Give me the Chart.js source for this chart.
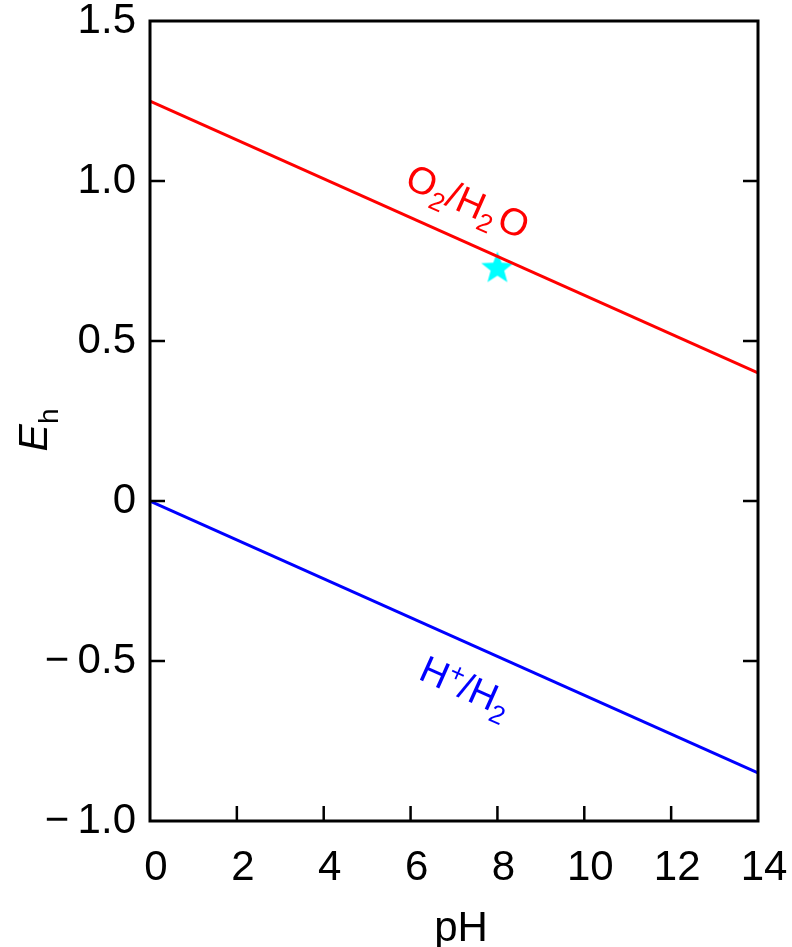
<!DOCTYPE html>
<html>
<head>
<meta charset="utf-8">
<script src="https://cdn.jsdelivr.net/npm/chart.js@4.4.1/dist/chart.umd.min.js"></script>
<style>
  html, body { margin: 0; padding: 0; background: #fff; }
  canvas { display: block; }
</style>
</head>
<body>
<canvas id="myChart" width="792" height="947"></canvas>
<script>
// data
const phValues = [0, 14];
const o2h2oValues = [1.25, 0.40];
const hh2Values = [0, -0.85];
const starPh = [8];
const starEh = [0.73];
const xTicks = [0, 2, 4, 6, 8, 10, 12, 14];
const yTicks = [-1.0, -0.5, 0, 0.5, 1.0, 1.5];
const yTickLabels = ['\u2212\u20091.0', '\u2212\u20090.5', '0', '0.5', '1.0', '1.5'];

const FONT = "'Liberation Sans', Arial, sans-serif";

// filled star used as point style
function makeStar(size, color) {
  const c = document.createElement('canvas');
  c.width = size; c.height = size;
  const g = c.getContext('2d');
  const cx = size / 2, cy = size / 2 + 1, R = size / 2, r = R * 0.42;
  g.beginPath();
  for (let i = 0; i < 10; i++) {
    const a = -Math.PI / 2 + i * Math.PI / 5;
    const rad = i % 2 === 0 ? R : r;
    g.lineTo(cx + rad * Math.cos(a), cy + rad * Math.sin(a));
  }
  g.closePath();
  g.fillStyle = color;
  g.fill();
  return c;
}
const starImg = makeStar(34, '#00ffff');

function drawRuns(ctx, runs, cx, cy, angle, color) {
  ctx.save();
  ctx.translate(cx, cy);
  ctx.rotate(angle);
  ctx.fillStyle = color;
  ctx.textAlign = 'left';
  ctx.textBaseline = 'alphabetic';
  let total = 0;
  runs.forEach(r => { ctx.font = r.font; r.w = ctx.measureText(r.t).width + (r.gap || 0); total += r.w; });
  let x = -total / 2;
  runs.forEach(r => { ctx.font = r.font; ctx.fillText(r.t, x, r.dy || 0); x += r.w; });
  ctx.restore();
}

const decorations = {
  id: 'decorations',
  afterDatasetsDraw(chart) {
    const ctx = chart.ctx;
    const a = chart.chartArea;
    const xs = chart.scales.x, ys = chart.scales.y;
    ctx.save();
    ctx.strokeStyle = '#000';
    ctx.lineWidth = 2.5;
    // inner ticks
    ctx.beginPath();
    xTicks.slice(1, -1).forEach(v => {
      const px = xs.getPixelForValue(v);
      ctx.moveTo(px, a.bottom); ctx.lineTo(px, a.bottom - 15);
    });
    yTicks.slice(1, -1).forEach(v => {
      const py = ys.getPixelForValue(v);
      ctx.moveTo(a.left, py); ctx.lineTo(a.left + 15, py);
      ctx.moveTo(a.right, py); ctx.lineTo(a.right - 15, py);
    });
    ctx.stroke();
    // frame
    ctx.lineWidth = 3;
    ctx.strokeRect(a.left, a.top, a.right - a.left, a.bottom - a.top);
    ctx.restore();

    // line labels
    const ang = Math.atan2(
      ys.getPixelForValue(o2h2oValues[1]) - ys.getPixelForValue(o2h2oValues[0]),
      xs.getPixelForValue(phValues[1]) - xs.getPixelForValue(phValues[0]));
    const big = '38px ' + FONT, small = '26px ' + FONT;
    drawRuns(ctx, [
      { t: 'O', font: big },
      { t: '2', font: small, dy: 9 },
      { t: '/H', font: big },
      { t: '2', font: small, dy: 9, gap: 4 },
      { t: 'O', font: big }
    ], xs.getPixelForValue(7.2), ys.getPixelForValue(0.94) + 13, ang, '#ff0000');
    drawRuns(ctx, [
      { t: 'H', font: big },
      { t: '+', font: small, dy: -13 },
      { t: '/H', font: big },
      { t: '2', font: small, dy: 9 }
    ], xs.getPixelForValue(7.15), ys.getPixelForValue(-0.575) + 13, ang, '#0000ff');

    // y axis title E_h
    drawRuns(ctx, [
      { t: 'E', font: 'italic 41px ' + FONT },
      { t: 'h', font: '28px ' + FONT, dy: 11 }
    ], 47, 430, -Math.PI / 2, '#000');
    // x axis title
    ctx.save();
    ctx.font = '42px ' + FONT;
    ctx.fillStyle = '#000';
    ctx.textAlign = 'center';
    ctx.textBaseline = 'alphabetic';
    ctx.fillText('pH', 461, 941);
    ctx.restore();
  }
};

const ctx = document.getElementById('myChart').getContext('2d');
const myChart = new Chart(ctx, {
  type: 'scatter',
  data: {
    datasets: [
      {
        label: 'O2/H2O',
        data: phValues.map((x, i) => ({ x: x, y: o2h2oValues[i] })),
        showLine: true,
        borderColor: '#ff0000',
        borderWidth: 3,
        pointRadius: 0,
        fill: false
      },
      {
        label: 'H+/H2',
        data: phValues.map((x, i) => ({ x: x, y: hh2Values[i] })),
        showLine: true,
        borderColor: '#0000ff',
        borderWidth: 3,
        pointRadius: 0,
        fill: false
      },
      {
        label: 'sample',
        data: starPh.map((x, i) => ({ x: x, y: starEh[i] })),
        pointStyle: starImg,
        pointRadius: 17,
        showLine: false
      }
    ]
  },
  options: {
    responsive: false,
    animation: false,
    layout: { padding: { top: 21, right: 34, left: 0, bottom: 0 } },
    plugins: { legend: { display: false }, tooltip: { enabled: false } },
    scales: {
      x: {
        type: 'linear',
        min: 0, max: 14,
        grid: { display: false, drawTicks: false },
        border: { display: false },
        afterBuildTicks: s => { s.ticks = xTicks.map(v => ({ value: v })); },
        afterFit: s => { s.height = 126; s.paddingLeft = 0; s.paddingRight = 0; },
        ticks: {
          color: '#000',
          font: { family: FONT, size: 42 },
          padding: 22,
          labelOffset: 6,
          maxRotation: 0,
          callback: v => String(v)
        }
      },
      y: {
        type: 'linear',
        min: -1, max: 1.5,
        grid: { display: false, drawTicks: false },
        border: { display: false },
        afterBuildTicks: s => { s.ticks = yTicks.map(v => ({ value: v })); },
        afterFit: s => { s.width = 150; s.paddingTop = 0; s.paddingBottom = 0; },
        ticks: {
          color: '#000',
          font: { family: FONT, size: 42 },
          padding: 14,
          callback: v => yTickLabels[yTicks.indexOf(v)]
        }
      }
    }
  },
  plugins: [decorations]
});
</script>
</body>
</html>
